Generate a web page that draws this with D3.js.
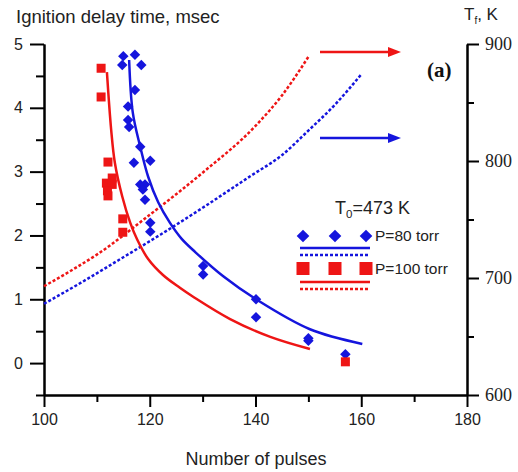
<!DOCTYPE html>
<html>
<head>
<meta charset="utf-8">
<script src="https://cdn.jsdelivr.net/npm/d3@7"></script>
<style>
  body { margin: 0; background: white; }
  svg { display: block; }
</style>
</head>
<body>
<div id="chart"></div>
<script>
// ignition delay vs number of pulses, with final temperature on the right axis

// measured points [pulses, delay msec]
const redSquares = [
  [110.8, 4.62], [110.8, 4.17], [112.1, 3.15], [112.9, 2.9], [111.8, 2.82],
  [112.9, 2.8], [112.0, 2.7], [112.1, 2.62], [114.9, 2.26], [114.9, 2.05], [157, 0.02]
]
const blueDiamonds = [
  [115.0, 4.81], [117.2, 4.83], [114.8, 4.67], [118.4, 4.67], [117.2, 4.28],
  [115.9, 4.02], [115.9, 3.81], [116.1, 3.70], [118.2, 3.39], [117.0, 3.14],
  [120.1, 3.17], [118.2, 2.80], [119.1, 2.80], [118.7, 2.72], [119.1, 2.56],
  [120.1, 2.20], [120.1, 2.06], [130.1, 1.52], [130.1, 1.39], [140.1, 1.0],
  [140.1, 0.72], [150.0, 0.39], [150.0, 0.35], [157, 0.14]
]
// fitted delay curves (left axis)
const redFit = [
  [111.9, 4.56], [112.7, 3.66], [113.4, 3.14], [114.8, 2.61], [116.3, 2.2],
  [117.6, 1.94], [119.7, 1.63], [122.5, 1.38], [125.7, 1.18], [128.2, 1.04],
  [135.2, 0.69], [142.8, 0.41], [150.3, 0.22]
]
const blueFit = [
  [116.1, 4.75], [116.8, 3.92], [118.2, 3.39], [119.7, 2.92], [121.6, 2.52],
  [123.8, 2.2], [126, 1.95], [128.6, 1.74], [133.9, 1.36], [140.1, 1.0],
  [150.3, 0.53], [160.2, 0.3]
]
// final temperature curves (right axis, K)
const redTf = [
  [100, 693], [105, 706], [110, 720], [120, 754], [130, 790], [140, 830], [145, 856], [150, 889]
]
const blueTf = [
  [100, 678], [107, 696], [114, 715], [122, 737], [130, 760], [139, 787],
  [145, 805], [150, 826], [155, 848], [160, 874]
]

const xTicks = [100, 120, 140, 160, 180]
const xMinor = [110, 130, 150, 170]
const yLTicks = [0, 1, 2, 3, 4, 5]
const yLMinor = [-0.5, 0.5, 1.5, 2.5, 3.5, 4.5]
const yRTicks = [600, 700, 800, 900]
const yRMinor = [650, 750, 850]

const RED = '#ee1515'
const BLUE = '#1515dd'
const SANS = 'Liberation Sans, Arial, sans-serif'
const SERIF = 'Liberation Serif, Times New Roman, serif'

// small helper, like d3-selection-multi
d3.selection.prototype.attrs = function (o) {
  Object.keys(o).forEach(k => this.attr(k, o[k]))
  return this
}

const W = 518, H = 472
const svg = d3.select('#chart').append('svg').attr('width', W).attr('height', H)

const x = d3.scaleLinear().domain([100, 180]).range([44, 467])
const yL = d3.scaleLinear().domain([-0.5, 5]).range([395, 44])
const yR = d3.scaleLinear().domain([600, 900]).range([395, 44])

// axes
function styleAxis(g) {
  g.selectAll('path.domain').attr('stroke', 'black').attr('stroke-width', 2)
  g.selectAll('.tick line').attr('stroke', 'black').attr('stroke-width', 2)
}

// bottom
svg.append('g').attr('transform', 'translate(0,395)')
  .call(d3.axisBottom(x).tickValues(xMinor).tickSize(7).tickSizeOuter(0).tickFormat(''))
  .call(styleAxis)
svg.append('g').attr('transform', 'translate(0,395)')
  .call(d3.axisBottom(x).tickValues(xTicks).tickSize(12).tickSizeOuter(0).tickPadding(7))
  .call(styleAxis)
  .call(g => g.selectAll('text').attr('font-family', SANS).attr('font-size', 16).attr('fill', '#222'))

// left
svg.append('g').attr('transform', 'translate(44,0)')
  .call(d3.axisLeft(yL).tickValues(yLMinor).tickSize(8).tickSizeOuter(0).tickFormat(''))
  .call(styleAxis)
svg.append('g').attr('transform', 'translate(44,0)')
  .call(d3.axisLeft(yL).tickValues(yLTicks).tickSize(14).tickSizeOuter(0).tickPadding(7).tickFormat(d3.format('d')))
  .call(styleAxis)
  .call(g => g.selectAll('text').attr('font-family', SANS).attr('font-size', 16).attr('fill', '#222'))

// right
svg.append('g').attr('transform', 'translate(467,0)')
  .call(d3.axisRight(yR).tickValues(yRMinor).tickSize(7).tickSizeOuter(0).tickFormat(''))
  .call(styleAxis)
svg.append('g').attr('transform', 'translate(467,0)')
  .call(d3.axisRight(yR).tickValues(yRTicks).tickSize(12).tickSizeOuter(0).tickPadding(6))
  .call(styleAxis)
  .call(g => g.selectAll('text').attr('font-family', SERIF).attr('font-size', 18).attr('fill', '#222'))

// curves
const lineL = d3.line().x(d => x(d[0])).y(d => yL(d[1])).curve(d3.curveCatmullRom.alpha(0.5))
const lineR = d3.line().x(d => x(d[0])).y(d => yR(d[1])).curve(d3.curveMonotoneX)

svg.append('path').datum(redTf).attr('d', lineR)
  .attrs({ fill: 'none', stroke: RED, 'stroke-width': 2.5, 'stroke-dasharray': '3,2' })
svg.append('path').datum(blueTf).attr('d', lineR)
  .attrs({ fill: 'none', stroke: BLUE, 'stroke-width': 2.5, 'stroke-dasharray': '3,2' })
svg.append('path').datum(redFit).attr('d', lineL)
  .attrs({ fill: 'none', stroke: RED, 'stroke-width': 2.5 })
svg.append('path').datum(blueFit).attr('d', lineL)
  .attrs({ fill: 'none', stroke: BLUE, 'stroke-width': 2.5 })

// markers
const diamond = d3.symbol().type(d3.symbolSquare).size(55)
svg.append('g').selectAll('path.pt80')
  .data(blueDiamonds).enter().append('path')
  .attr('class', 'pt80')
  .attr('d', diamond)
  .attr('transform', d => 'translate(' + x(d[0]) + ',' + yL(d[1]) + ') rotate(45)')
  .attr('fill', BLUE)

svg.append('g').selectAll('rect.pt100')
  .data(redSquares).enter().append('rect')
  .attr('class', 'pt100')
  .attr('x', d => x(d[0]) - 4.5).attr('y', d => yL(d[1]) - 4.5)
  .attr('width', 9).attr('height', 9)
  .attr('fill', RED)

// arrows pointing to the right axis
function arrow(y, color) {
  svg.append('line').attrs({ x1: 320, x2: 390, y1: y, y2: y, stroke: color, 'stroke-width': 2.5 })
  svg.append('path').attr('d', 'M388,' + (y - 5) + ' L401,' + y + ' L388,' + (y + 5) + 'Z').attr('fill', color)
}
arrow(52, RED)
arrow(138, BLUE)

// titles
svg.append('text').attrs({ x: 16, y: 23, 'font-family': SANS, 'font-size': 18.5, fill: '#222' })
  .text('Ignition delay time, msec')
const tf = svg.append('text').attrs({ x: 464, y: 20, 'font-family': SANS, 'font-size': 17, fill: '#222' })
tf.append('tspan').text('T')
tf.append('tspan').attrs({ 'font-size': 10, dy: 4 }).text('f')
tf.append('tspan').attrs({ dy: -4 }).text(', K')
svg.append('text').attrs({ x: 256, y: 465, 'text-anchor': 'middle', 'font-family': SANS, 'font-size': 18, fill: '#222' })
  .text('Number of pulses')
svg.append('text').attrs({ x: 427, y: 77, 'font-family': SERIF, 'font-size': 21, 'font-weight': 'bold', fill: '#111' })
  .text('(a)')

// legend
const t0 = svg.append('text').attrs({ x: 335, y: 214, 'font-family': SANS, 'font-size': 18, fill: '#222' })
t0.append('tspan').text('T')
t0.append('tspan').attrs({ 'font-size': 11.5, dy: 4 }).text('0')
t0.append('tspan').attrs({ dy: -4 }).text('=473 K')

const legX = [303, 335, 366]
const legDiamond = d3.symbol().type(d3.symbolSquare).size(80)
legX.forEach(lx => {
  svg.append('path').attr('d', legDiamond)
    .attr('transform', 'translate(' + lx + ',236) rotate(45)').attr('fill', BLUE)
  svg.append('rect').attrs({ x: lx - 6.5, y: 262, width: 13, height: 13, fill: RED })
})
svg.append('text').attrs({ x: 375, y: 241, 'font-family': SANS, 'font-size': 15.5, fill: '#222' }).text('P=80 torr')
svg.append('text').attrs({ x: 375, y: 274, 'font-family': SANS, 'font-size': 15.5, fill: '#222' }).text('P=100 torr')
svg.append('line').attrs({ x1: 300, x2: 370, y1: 248, y2: 248, stroke: BLUE, 'stroke-width': 2.5 })
svg.append('line').attrs({ x1: 300, x2: 370, y1: 255, y2: 255, stroke: BLUE, 'stroke-width': 2.5, 'stroke-dasharray': '3,2' })
svg.append('line').attrs({ x1: 300, x2: 370, y1: 282, y2: 282, stroke: RED, 'stroke-width': 2.5 })
svg.append('line').attrs({ x1: 300, x2: 370, y1: 289, y2: 289, stroke: RED, 'stroke-width': 2.5, 'stroke-dasharray': '3,2' })
</script>
</body>
</html>
